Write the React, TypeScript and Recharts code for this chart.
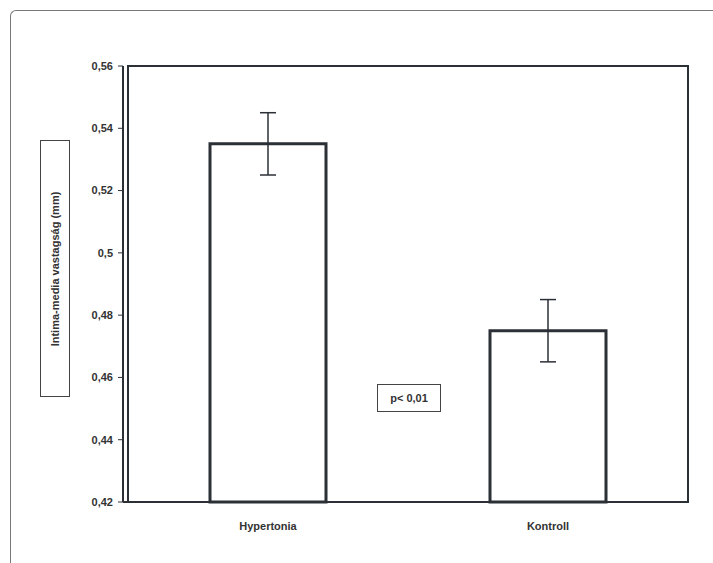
import { BarChart, Bar, XAxis, YAxis, ErrorBar, ReferenceArea } from 'recharts';

const groups = ['Hypertonia', 'Kontroll'];
const means = [0.535, 0.475];
const errors = [0.01, 0.01];
const yTicks = [0.42, 0.44, 0.46, 0.48, 0.5, 0.52, 0.54, 0.56];

const data = groups.map((g, i) => ({ group: g, mean: means[i], err: errors[i] }));

const font = '"Liberation Sans", Arial, sans-serif';
const ink = '#2b2f36';

export default function App() {
  return (
    <div style={{ position: 'absolute', left: 0, top: 0, width: 713, height: 563, background: '#fff', fontFamily: font }}>
      {/* scanned page frame */}
      <div style={{ position: 'absolute', left: 10, top: 10, width: 703, height: 553, borderTop: '1px solid #777', borderLeft: '1px solid #777', borderTopLeftRadius: 6 }} />

      <BarChart
        width={713}
        height={563}
        data={data}
        margin={{ top: 66, right: 25, bottom: 31, left: 60 }}
        barCategoryGap={82}
      >
        <ReferenceArea y1={0.42} y2={0.56} fill="none" stroke={ink} strokeWidth={2} ifOverflow="visible" />
        <XAxis
          dataKey="group"
          height={30}
          padding={{ left: 5, right: 0 }}
          tickLine={false}
          axisLine={{ stroke: ink, strokeWidth: 2 }}
          tick={{ fill: '#333', fontSize: 11, fontWeight: 'bold', fontFamily: font }}
          tickMargin={14}
        />
        <YAxis
          width={63}
          domain={[0.42, 0.56]}
          ticks={yTicks}
          interval={0}
          tickFormatter={(v: number) => String(v).replace('.', ',')}
          tick={{ fill: '#333', fontSize: 11, fontWeight: 'bold', fontFamily: font }}
          tickSize={5}
          tickMargin={5}
          tickLine={{ stroke: ink }}
          axisLine={{ stroke: ink, strokeWidth: 2 }}
        />
        <Bar dataKey="mean" fill="#fff" stroke={ink} strokeWidth={3} isAnimationActive={false}>
          <ErrorBar dataKey="err" width={8} stroke={ink} strokeWidth={1.5} />
        </Bar>
      </BarChart>

      {/* y axis title box */}
      <div style={{ position: 'absolute', left: 40, top: 140, width: 30, height: 257, border: '1px solid #444', boxSizing: 'border-box' }}>
        <div style={{ position: 'absolute', left: '50%', top: '50%', transform: 'translate(-50%, -50%) rotate(-90deg)', whiteSpace: 'nowrap', fontSize: 11, fontWeight: 'bold', color: '#333' }}>
          Intima-media vastagság (mm)
        </div>
      </div>

      {/* significance box */}
      <div style={{ position: 'absolute', left: 377, top: 384, width: 64, height: 28, border: '1px solid #444', boxSizing: 'border-box', display: 'flex', alignItems: 'center', justifyContent: 'center', fontSize: 11, fontWeight: 'bold', color: '#333' }}>
        p&lt; 0,01
      </div>
    </div>
  );
}
